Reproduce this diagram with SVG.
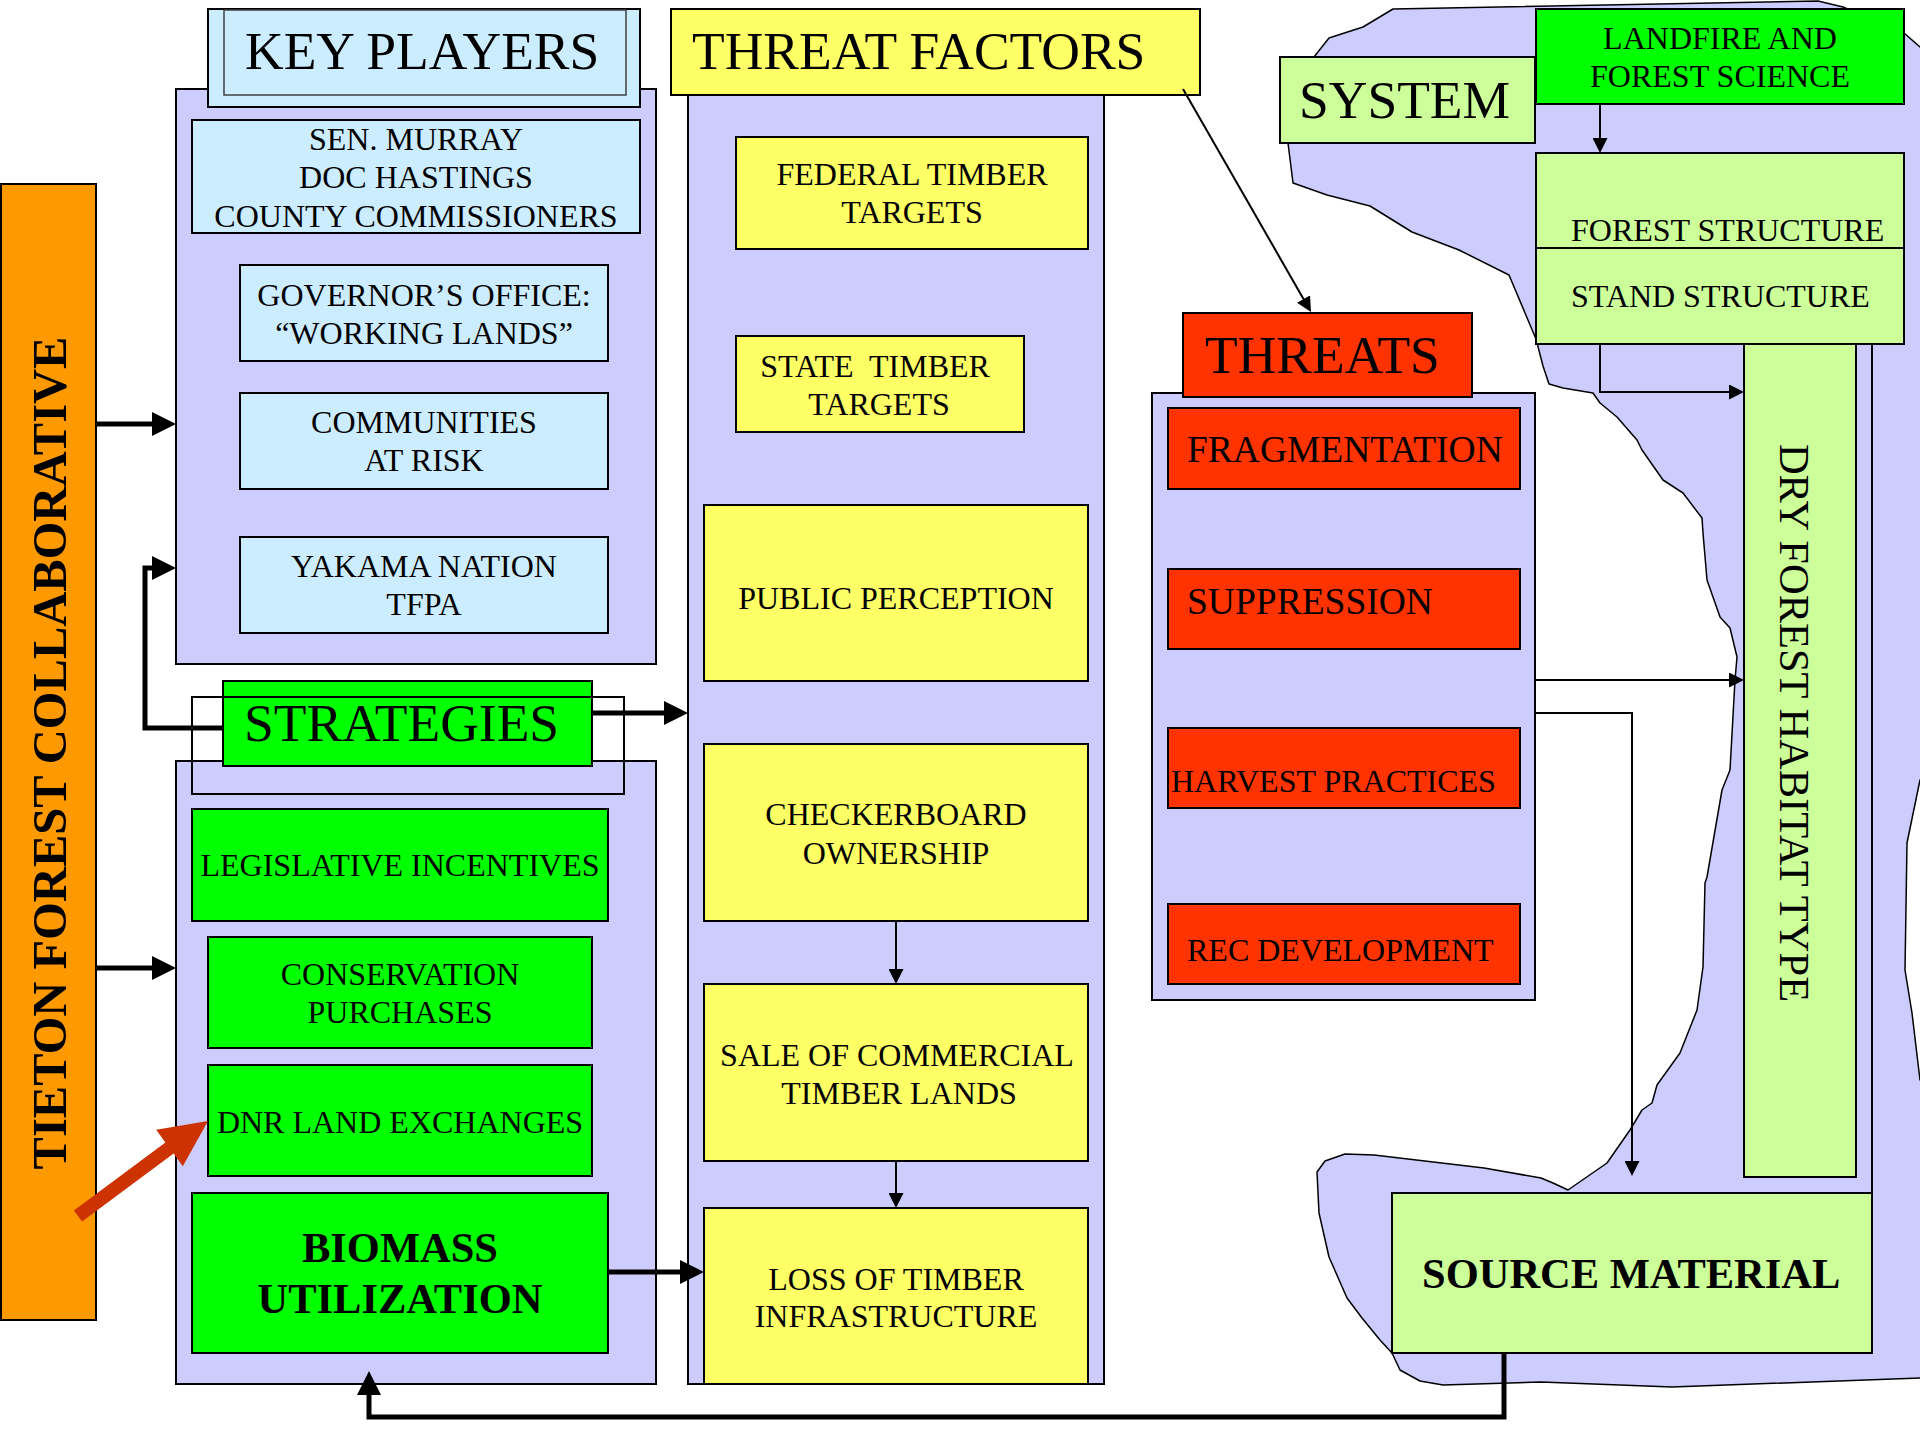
<svg xmlns="http://www.w3.org/2000/svg" width="1920" height="1440" viewBox="0 0 1920 1440">
<style>
text{font-family:"Liberation Serif","Times New Roman",serif;fill:#000}
.h{font-size:53.5px}
.m{font-size:32px}
.c{text-anchor:middle}
.bd{font-weight:bold;font-size:42.5px}
.box{stroke:#000;stroke-width:2}
.lav{fill:#CCCCFF}
.lb{fill:#CCECFF}
.yl{fill:#FFFF66}
.gr{fill:#00FF00}
.rd{fill:#FF3300}
.lg{fill:#CCFF99}
.thick{fill:none;stroke:#000;stroke-width:5}
.thin{fill:none;stroke:#000;stroke-width:2}
</style>
<defs>
<marker id="ah" viewBox="0 0 24 24" refX="14" refY="12" markerWidth="24" markerHeight="24" markerUnits="userSpaceOnUse" orient="auto"><path d="M0,0 L24,12 L0,24 z" fill="#000"/></marker>
<marker id="as" viewBox="0 0 15 15" refX="10" refY="7.5" markerWidth="15" markerHeight="15" markerUnits="userSpaceOnUse" orient="auto"><path d="M0,0 L15,7.5 L0,15 z" fill="#000"/></marker>
</defs>
<rect width="1920" height="1440" fill="#fff"/>

<g id="blob">
<path class="lav" stroke="#000" stroke-width="1.5" stroke-linejoin="round" d="M1288,143 L1293,183 L1327,195 L1370,206 L1412,232 L1459,250 L1509,275 L1536,339 L1543,366 L1549,384 L1563,388 L1593,393 L1600,403 L1617,417 L1637,440 L1642,450 L1663,480 L1683,493 L1702,518 L1703,533 L1707,580 L1720,617 L1730,628 L1737,657 L1735,680 L1730,770 L1722,790 L1707,877 L1705,883 L1703,967 L1697,1010 L1680,1053 L1657,1085 L1652,1103 L1642,1110 L1630,1130 L1607,1163 L1568,1190 L1553,1183 L1541,1178 L1484,1168 L1374,1155 L1345,1154 L1325,1161 L1317,1172 L1319,1213 L1329,1257 L1347,1298 L1362,1318 L1380,1340 L1392,1353 L1400,1370 L1420,1381 L1443,1385 L1541,1382 L1672,1387 L1920,1378 L1926,1378 L1926,1080 L1920,1080 L1912,1013 L1905,970 L1907,843 L1920,780 L1926,780 L1926,47 L1920,47 L1904,33 L1843,7 L1818,1 L1393,9 L1363,27 L1329,38 L1314,57 L1300,90 Z"/>
</g>

<g id="tieton">
<rect class="box" x="1" y="184" width="95" height="1136" fill="#FF9900"/>
<text transform="translate(66,753) rotate(-90)" class="c" font-weight="bold" font-size="48.5">TIETON FOREST COLLABORATIVE</text>
</g>

<g id="key-players">
<rect class="box lav" x="176" y="89" width="480" height="575"/>
<rect class="box lb" x="208" y="9" width="432" height="98"/>
<rect class="lb" x="224" y="10" width="402" height="85" stroke="#404040" stroke-width="1.5"/>
<text class="h" x="245" y="69">KEY PLAYERS</text>
</g>
<g id="kp-sen">
<rect class="box lb" x="192" y="120" width="448" height="113"/>
<text class="m c" x="416" y="150">SEN. MURRAY</text>
<text class="m c" x="416" y="188">DOC HASTINGS</text>
<text class="m c" x="416" y="227">COUNTY COMMISSIONERS</text>
</g>
<g id="kp-gov">
<rect class="box lb" x="240" y="265" width="368" height="96"/>
<text class="m c" x="424" y="306">GOVERNOR’S OFFICE:</text>
<text class="m c" x="424" y="344">“WORKING LANDS”</text>
</g>
<g id="kp-comm">
<rect class="box lb" x="240" y="393" width="368" height="96"/>
<text class="m c" x="424" y="433">COMMUNITIES</text>
<text class="m c" x="424" y="471">AT RISK</text>
</g>
<g id="kp-yakama">
<rect class="box lb" x="240" y="537" width="368" height="96"/>
<text class="m c" x="424" y="577">YAKAMA NATION</text>
<text class="m c" x="424" y="615">TFPA</text>
</g>

<g id="strategies">
<rect class="box lav" x="176" y="761" width="480" height="623"/>
<rect class="box gr" x="223" y="681" width="369" height="85"/>
<rect x="192" y="697" width="432" height="97" fill="none" stroke="#000" stroke-width="2"/>
<text class="h" x="244" y="741">STRATEGIES</text>
</g>
<g id="st-leg">
<rect class="box gr" x="192" y="809" width="416" height="112"/>
<text class="m c" x="400" y="876">LEGISLATIVE INCENTIVES</text>
</g>
<g id="st-cons">
<rect class="box gr" x="208" y="937" width="384" height="111"/>
<text class="m c" x="400" y="985">CONSERVATION</text>
<text class="m c" x="400" y="1023">PURCHASES</text>
</g>
<g id="st-dnr">
<rect class="box gr" x="208" y="1065" width="384" height="111"/>
<text class="m c" x="400" y="1133">DNR LAND EXCHANGES</text>
</g>
<g id="st-biomass">
<rect class="box gr" x="192" y="1193" width="416" height="160"/>
<text class="bd c" x="400" y="1262">BIOMASS</text>
<text class="bd c" x="400" y="1313">UTILIZATION</text>
</g>

<g id="threat-factors">
<rect class="box lav" x="688" y="95" width="416" height="1289"/>
<rect class="box yl" x="671" y="9" width="529" height="86"/>
<text class="h" x="692" y="69">THREAT FACTORS</text>
</g>
<g id="tf-federal">
<rect class="box yl" x="736" y="137" width="352" height="112"/>
<text class="m c" x="912" y="185">FEDERAL TIMBER</text>
<text class="m c" x="912" y="223">TARGETS</text>
</g>
<g id="tf-state">
<rect class="box yl" x="736" y="336" width="288" height="96"/>
<text class="m c" x="875" y="377" xml:space="preserve">STATE  TIMBER</text>
<text class="m c" x="879" y="415">TARGETS</text>
</g>
<g id="tf-public">
<rect class="box yl" x="704" y="505" width="384" height="176"/>
<text class="m c" x="896" y="609">PUBLIC PERCEPTION</text>
</g>
<g id="tf-checker">
<rect class="box yl" x="704" y="744" width="384" height="177"/>
<text class="m c" x="896" y="825">CHECKERBOARD</text>
<text class="m c" x="896" y="864">OWNERSHIP</text>
</g>
<g id="tf-sale">
<rect class="box yl" x="704" y="984" width="384" height="177"/>
<text class="m c" x="897" y="1066">SALE OF COMMERCIAL</text>
<text class="m c" x="899" y="1104">TIMBER LANDS</text>
</g>
<g id="tf-loss">
<rect class="box yl" x="704" y="1208" width="384" height="176"/>
<text class="m c" x="896" y="1290">LOSS OF TIMBER</text>
<text class="m c" x="896" y="1327">INFRASTRUCTURE</text>
</g>

<g id="threats">
<rect class="box lav" x="1152" y="393" width="383" height="607"/>
<rect class="box rd" x="1183" y="313" width="289" height="84"/>
<text class="h" x="1205" y="373">THREATS</text>
</g>
<g id="th-frag">
<rect class="box rd" x="1168" y="408" width="352" height="81"/>
<text x="1187" y="462" font-size="37.5">FRAGMENTATION</text>
</g>
<g id="th-supp">
<rect class="box rd" x="1168" y="569" width="352" height="80"/>
<text x="1187" y="614" font-size="37.5">SUPPRESSION</text>
</g>
<g id="th-harv">
<rect class="box rd" x="1168" y="728" width="352" height="80"/>
<text class="m" x="1171" y="792">HARVEST PRACTICES</text>
</g>
<g id="th-rec">
<rect class="box rd" x="1168" y="904" width="352" height="80"/>
<text class="m" x="1187" y="961">REC DEVELOPMENT</text>
</g>

<g id="system">
<rect class="box lg" x="1280" y="57" width="255" height="86"/>
<text class="h" x="1299" y="118">SYSTEM</text>
</g>
<g id="landfire">
<rect class="box gr" x="1536" y="9" width="368" height="95"/>
<text class="m c" x="1720" y="49">LANDFIRE AND</text>
<text class="m c" x="1720" y="87">FOREST SCIENCE</text>
</g>
<g id="forest-structure">
<rect class="box lg" x="1536" y="153" width="368" height="95"/>
<text class="m" x="1571" y="241">FOREST STRUCTURE</text>
</g>
<g id="stand-structure">
<rect class="box lg" x="1536" y="248" width="368" height="96"/>
<text class="m" x="1571" y="307">STAND STRUCTURE</text>
</g>
<g id="dry-forest">
<rect class="box lg" x="1744" y="344" width="112" height="833"/>
<text transform="translate(1780,723) rotate(90)" class="c" font-size="42.5">DRY FOREST HABITAT TYPE</text>
</g>
<g id="source-material">
<rect class="box lg" x="1392" y="1193" width="480" height="160"/>
<text class="bd" x="1422" y="1288">SOURCE MATERIAL</text>
</g>

<g id="connectors">
<path class="thick" d="M96,424 H166" marker-end="url(#ah)"/>
<path class="thick" d="M96,968 H166" marker-end="url(#ah)"/>
<path class="thick" d="M224,728 H145 V568 H166" marker-end="url(#ah)"/>
<path class="thick" d="M592,713 H678" marker-end="url(#ah)"/>
<path class="thick" d="M608,1272 H694" marker-end="url(#ah)"/>
<path class="thick" d="M1504,1353 V1417 H369 V1381" marker-end="url(#ah)"/>
<path class="thin" d="M1183,89 L1308.5,307.7" marker-end="url(#as)"/>
<path class="thin" d="M1600,104 V148" marker-end="url(#as)"/>
<path class="thin" d="M1600,344 V392 H1739" marker-end="url(#as)"/>
<path class="thin" d="M1535,680 H1739" marker-end="url(#as)"/>
<path class="thin" d="M1535,713 H1632 V1171" marker-end="url(#as)"/>
<path class="thin" d="M896,921 V979" marker-end="url(#as)"/>
<path class="thin" d="M896,1161 V1203" marker-end="url(#as)"/>
<path class="thin" d="M1872,344 V1193"/>
<polygon points="73.9,1210.4 165.4,1142.4 156.2,1129.8 208,1121 182.8,1166.2 173.6,1153.6 82.1,1221.6" fill="#CC3300"/>
</g>
</svg>
